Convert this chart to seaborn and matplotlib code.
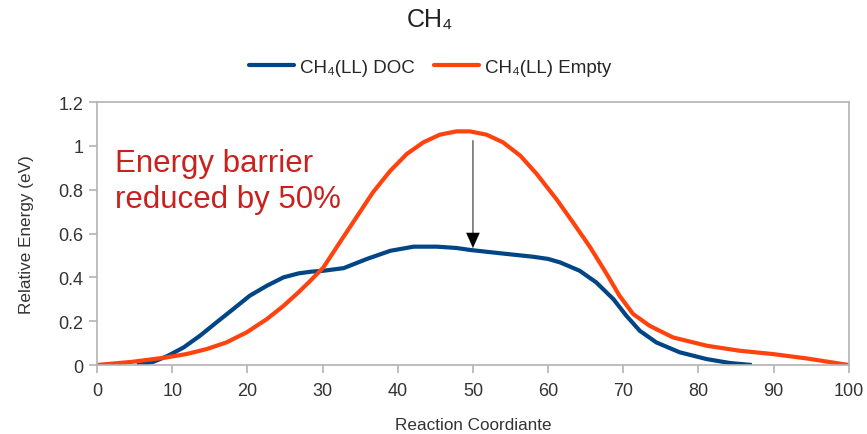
import matplotlib
matplotlib.use("Agg")
import matplotlib.pyplot as plt
import seaborn as sns
import pandas as pd

# Reaction path energies (eV) along the reaction coordinate
doc_x = [5.3, 7.5, 9.3, 11.5, 13.7, 15.9, 18.1, 20.3, 22.6, 24.8, 26.8, 28.5, 30.1,
         32.8, 35.9, 39, 42.1, 45.2, 47.8, 49.6, 53.6, 58, 60, 61.6, 64.2, 66.4,
         68.7, 70.4, 72.2, 74.4, 77.5, 81.1, 84.2, 87.1]
doc_y = [0.0, 0.015, 0.04, 0.08, 0.134, 0.195, 0.255, 0.316, 0.362, 0.40, 0.418,
         0.426, 0.43, 0.442, 0.484, 0.521, 0.54, 0.54, 0.534, 0.525, 0.51, 0.494,
         0.484, 0.468, 0.43, 0.377, 0.30, 0.225, 0.156, 0.103, 0.058, 0.027, 0.009,
         0.0]

empty_x = [0, 4.8, 9.3, 11.9, 14.6, 17.2, 19.9, 22.6, 24.8, 26.8, 28.3, 30.1, 32.3,
           34.5, 36.7, 39, 41.2, 43.4, 45.6, 47.8, 49.6, 51.8, 54, 56.3, 58.5, 60,
           61.1, 63.3, 65.6, 67.8, 69.5, 71.3, 73.5, 76.6, 81.1, 85.5, 89.9, 94.4,
           100]
empty_y = [0.0, 0.015, 0.035, 0.05, 0.073, 0.103, 0.149, 0.21, 0.27, 0.332, 0.382,
           0.445, 0.56, 0.674, 0.788, 0.886, 0.963, 1.016, 1.051, 1.066, 1.066, 1.051,
           1.016, 0.955, 0.871, 0.805, 0.757, 0.651, 0.537, 0.415, 0.316, 0.233,
           0.179, 0.126, 0.088, 0.065, 0.05, 0.03, 0.0]

series_names = ["CH₄(LL) DOC", "CH₄(LL) Empty"]
series_colors = ["#004586", "#ff420e"]

x_ticks = list(range(0, 101, 10))
y_ticks = [0, 0.2, 0.4, 0.6, 0.8, 1, 1.2]
y_tick_labels = ["0", "0.2", "0.4", "0.6", "0.8", "1", "1.2"]

barrier_x = 50
barrier_top = 1.036
barrier_bottom = 0.521

sns.set_theme(style="white")
plt.rcParams["font.family"] = ["Liberation Sans", "DejaVu Sans"]

df = pd.concat([
    pd.DataFrame({"x": doc_x, "y": doc_y, "series": series_names[0]}),
    pd.DataFrame({"x": empty_x, "y": empty_y, "series": series_names[1]}),
], ignore_index=True)

fig = plt.figure(figsize=(8.67, 4.35), dpi=100)
ax = fig.add_axes([0.112, 0.1586, 0.867, 0.6046])

sns.lineplot(data=df, x="x", y="y", hue="series", hue_order=series_names,
             palette=series_colors, linewidth=3, sort=False, estimator=None,
             legend=False, ax=ax)
for line in ax.get_lines():
    line.set_solid_joinstyle("round")
    line.set_solid_capstyle("butt")

ax.set_xlim(0, 100)
ax.set_ylim(0, 1.2)
ax.set_xticks(x_ticks)
ax.set_yticks(y_ticks)
ax.set_yticklabels(y_tick_labels)

spine_color = "#b3b3b3"
for s in ax.spines.values():
    s.set_visible(True)
    s.set_color(spine_color)
    s.set_linewidth(1.2)
ax.tick_params(axis="both", direction="out", length=6, width=1.2,
               color=spine_color, labelsize=13, labelcolor="#333333", pad=4)
ax.tick_params(axis="x", bottom=True, pad=6)
ax.tick_params(axis="y", left=True)

ax.set_xlabel("Reaction Coordiante", fontsize=12.3, color="#333333", labelpad=13)
ax.set_ylabel("Relative Energy (eV)", fontsize=12.3, color="#333333", labelpad=17)

# annotation of the barrier reduction
ax.text(2.4, 0.721, "Energy barrier\nreduced by 50%", color="#c9211e",
        fontsize=22.5, ha="left", va="baseline", linespacing=1.28)
ax.annotate("", xy=(barrier_x, barrier_bottom + 0.05), xytext=(barrier_x, barrier_top),
            arrowprops=dict(arrowstyle="-", color="#666666", lw=1.1))
ax.annotate("", xy=(barrier_x, barrier_bottom), xytext=(barrier_x, barrier_bottom + 0.08),
            arrowprops=dict(arrowstyle="-|>,head_length=0.9,head_width=0.4",
                            color="black", lw=0.1))

fig.text(0.496, 0.954, "CH₄", ha="center", va="center", fontsize=18, color="#222222")

handles = [plt.Line2D([], [], color=c, lw=3) for c in series_colors]
fig.legend(handles, series_names, loc="center", bbox_to_anchor=(0.496, 0.843),
           ncol=2, frameon=False, fontsize=13.5, handlelength=2.4,
           columnspacing=1.0, handletextpad=0.35)

fig.savefig("out.png", dpi=100)
